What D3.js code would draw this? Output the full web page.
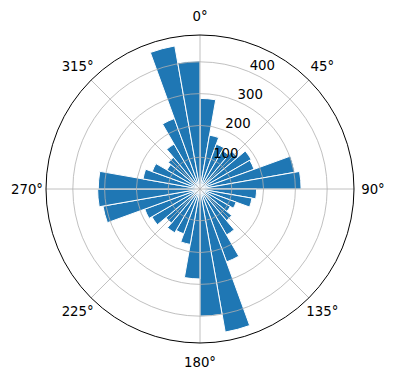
<!DOCTYPE html>
<html>
<head>
<meta charset="utf-8">
<script src="https://cdn.jsdelivr.net/npm/d3@7"></script>
<style>
  body { margin: 0; background: #fff; }
  text { font-family: "DejaVu Sans", sans-serif; font-size: 13.3px; fill: #000; }
</style>
</head>
<body>
<svg id="chart" width="396" height="380"></svg>
<script>
// direction bins (start angle, degrees clockwise from north), 10 deg wide
var binStart = [0, 10, 20, 30, 40, 50, 60, 70, 80,
                90, 100, 110, 120, 130, 140, 150, 160, 170,
                180, 190, 200, 210, 220, 230, 240, 250, 260,
                270, 280, 290, 300, 310, 320, 330, 340, 350];
var counts = [285, 172, 150, 140, 155, 186, 181, 303, 318,
              178, 166, 121, 110, 130, 167, 244, 457, 400,
              283, 177, 150, 159, 140, 175, 185, 310, 322,
              320, 182, 160, 120, 130, 163, 236, 457, 403];
var binWidth = 10;
var angleTicks = [0, 45, 90, 135, 180, 225, 270, 315];
var angleLabels = ["0°", "45°", "90°", "135°", "180°", "225°", "270°", "315°"];
var radialTicks = [100, 200, 300, 400];

var cx = 200, cy = 189, R = 154;
var rad = Math.PI / 180;

var svg = d3.select("#chart");
var g = svg.append("g").attr("transform", "translate(" + cx + "," + cy + ")");

var r = d3.scaleLinear().domain([0, d3.max(counts) * 1.06]).range([0, R]);

var arc = d3.arc()
  .innerRadius(0)
  .outerRadius(function(d) { return r(d.v); })
  .startAngle(function(d) { return d.a * rad; })
  .endAngle(function(d) { return (d.a + binWidth) * rad; });

var data = binStart.map(function(a, i) { return {a: a, v: counts[i]}; });

g.selectAll("path.bar")
  .data(data)
  .enter().append("path")
  .attr("class", "bar")
  .attr("d", arc)
  .attr("fill", "#1f77b4")
  .attr("stroke", "#fff")
  .attr("stroke-width", 1);

// grid (drawn over the bars like matplotlib)
g.selectAll("circle.grid")
  .data(radialTicks)
  .enter().append("circle")
  .attr("class", "grid")
  .attr("r", function(d) { return r(d); })
  .attr("fill", "none")
  .attr("stroke", "#b0b0b0")
  .attr("stroke-width", 0.8);

g.selectAll("line.spoke")
  .data(angleTicks)
  .enter().append("line")
  .attr("class", "spoke")
  .attr("x1", 0).attr("y1", 0)
  .attr("x2", function(d) { return R * Math.sin(d * rad); })
  .attr("y2", function(d) { return -R * Math.cos(d * rad); })
  .attr("stroke", "#b0b0b0")
  .attr("stroke-width", 0.8);

// outer spine
g.append("circle")
  .attr("r", R)
  .attr("fill", "none")
  .attr("stroke", "#000")
  .attr("stroke-width", 1);

// angle labels
g.selectAll("text.ang")
  .data(angleTicks)
  .enter().append("text")
  .attr("class", "ang")
  .attr("x", function(d) { return (R + 19) * Math.sin(d * rad); })
  .attr("y", function(d) { return -(R + 19) * Math.cos(d * rad); })
  .attr("text-anchor", "middle")
  .attr("dominant-baseline", "central")
  .text(function(d, i) { return angleLabels[i]; });

// radial labels at 22.5 deg
var labAng = 22.5 * rad;
g.selectAll("text.rad")
  .data(radialTicks)
  .enter().append("text")
  .attr("class", "rad")
  .attr("x", function(d) { return r(d) * Math.sin(labAng) + 1; })
  .attr("y", function(d) { return -r(d) * Math.cos(labAng) - 2; })
  .attr("text-anchor", "start")
  .text(function(d) { return d; });
</script>
</body>
</html>
